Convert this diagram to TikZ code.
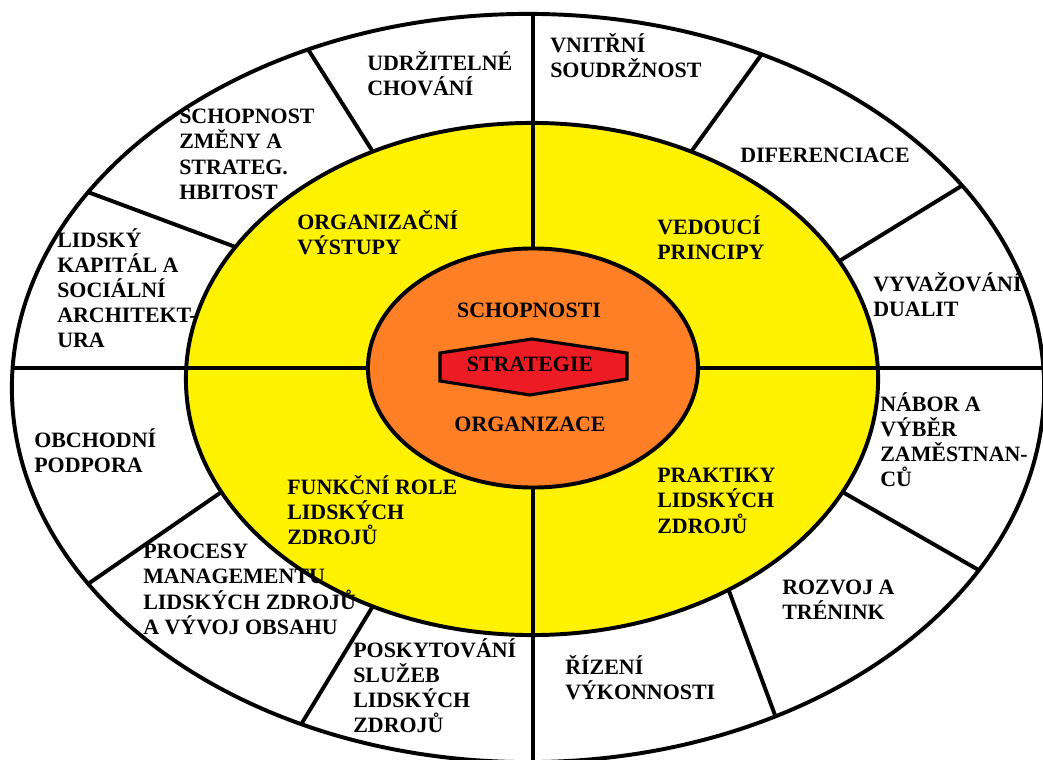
\documentclass[tikz,border=0pt]{standalone}
\usepackage{fontspec}
\setmainfont{Liberation Serif}
\usetikzlibrary{shapes.geometric}

\definecolor{ringyellow}{RGB}{255,242,0}
\definecolor{coreorange}{RGB}{255,127,39}
\definecolor{stratred}{RGB}{237,28,36}

\begin{document}
\begin{tikzpicture}[
  x=0.025cm, y=-0.025cm,
  oval/.style={draw, ellipse, line width=2.8pt, inner sep=0pt, outer sep=0pt},
  divider/.style={line width=2.8pt},
  sector/.style={font=\fontsize{15.6}{17.9}\selectfont\bfseries, align=left, anchor=north west,
    inner sep=0pt, yshift=15pt, execute at begin node={\rule{0pt}{15pt}}},
  hub/.style={font=\fontsize{15.6}{17.9}\selectfont\bfseries, anchor=base, inner sep=0pt}
]
  \useasboundingbox (0,0) rectangle (1043,760);
  \clip (0,0) rectangle (1043,760);

  % Rings
  \node[oval, fill=white, minimum width=25.8cm, minimum height=18.7cm] (outer) at (528,388) {};
  \node[oval, fill=ringyellow, minimum width=17.3cm, minimum height=12.8cm] (ring) at (532,379) {};
  \node[oval, fill=coreorange, minimum width=8.25cm, minimum height=5.975cm] (core) at (533,368) {};

  % Quarter lines
  \draw[divider] (core.north) -- (core.north |- outer.north);
  \draw[divider] (core.south) -- (core.south |- outer.south);
  \draw[divider] (core.west) -- (core.west -| outer.west);
  \draw[divider] (core.east) -- (core.east -| outer.east);

  % Outer segments
  \foreach \a/\b in {123/125, 156/156, 55/55, 25/21, 204/200, 236/235, 338/340, 307/313}
    \draw[divider] (outer.\a) -- (ring.\b);

  % Strategy in the middle
  \draw[line width=2.2pt, fill=stratred] (440,353) -- (532,339) -- (627,353) -- (627,379)
    -- (530,395) -- (440,381) -- cycle;
  \node[hub] (strat) at (530,371) {STRATEGIE};
  \node[hub] (schop) at (529,317) {SCHOPNOSTI};
  \node[hub] (org) at (530,431) {ORGANIZACE};

  % Yellow ring
  \node[sector] (vystupy) at (297,231) {ORGANIZAČNÍ\\VÝSTUPY};
  \node[sector] (principy) at (657,236) {VEDOUCÍ\\PRINCIPY};
  \node[sector] (funkce) at (287,496) {FUNKČNÍ ROLE\\LIDSKÝCH\\ZDROJŮ};
  \node[sector] (praktiky) at (657,489) {PRAKTIKY\\LIDSKÝCH\\ZDROJŮ};

  % Outer ring
  \node[sector] (udrz) at (367,72) {UDRŽITELNÉ\\CHOVÁNÍ};
  \node[sector] (soudrz) at (550,54) {VNITŘNÍ\\SOUDRŽNOST};
  \node[sector] (zmena) at (179,130) {SCHOPNOST\\ZMĚNY A\\STRATEG.\\HBITOST};
  \node[sector] (dif) at (740,162) {DIFERENCIACE};
  \node[sector] (kapital) at (57,249) {LIDSKÝ\\KAPITÁL A\\SOCIÁLNÍ\\ARCHITEKT-\\URA};
  \node[sector] (dualit) at (873,293) {VYVAŽOVÁNÍ\\DUALIT};
  \node[sector] (nabor) at (880,413) {NÁBOR A\\VÝBĚR\\ZAMĚSTNAN-\\CŮ};
  \node[sector] (podpora) at (34,449) {OBCHODNÍ\\PODPORA};
  \node[sector] (procesy) at (143,565) {PROCESY\\MANAGEMENTU\\LIDSKÝCH ZDROJŮ\\A VÝVOJ OBSAHU};
  \node[sector] (rozvoj) at (782,601) {ROZVOJ A\\TRÉNINK};
  \node[sector] (sluzby) at (353,659) {POSKYTOVÁNÍ\\SLUŽEB\\LIDSKÝCH\\ZDROJŮ};
  \node[sector] (vykon) at (565,676) {ŘÍZENÍ\\VÝKONNOSTI};
\end{tikzpicture}
\end{document}
